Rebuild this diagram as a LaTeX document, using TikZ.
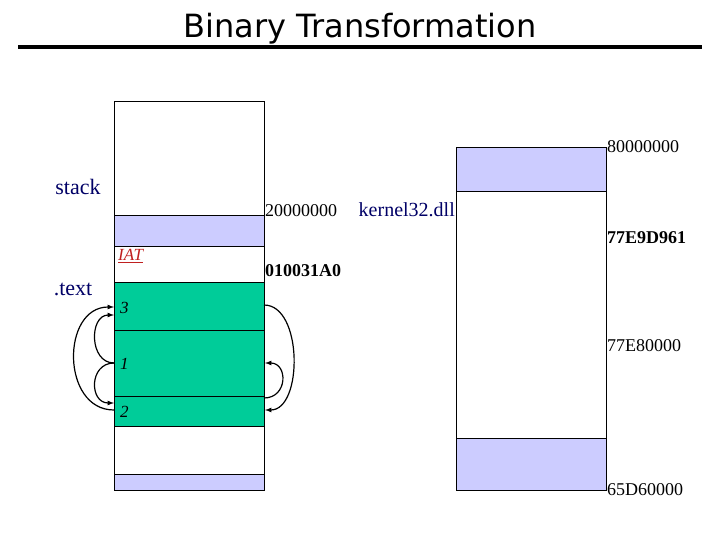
\documentclass[tikz,border=0pt]{standalone}
\usepackage{fontspec}
\setmainfont{Liberation Serif}
\newfontfamily\titlefont{DejaVu Sans}
\definecolor{lav}{RGB}{204,204,255}
\definecolor{grn}{RGB}{0,204,153}
\definecolor{navy}{RGB}{0,0,102}
\definecolor{iatred}{RGB}{192,32,32}
\begin{document}
\begin{tikzpicture}[x=1pt,y=-1pt,
	seg/.style={draw=black,line width=1pt},
	addr/.style={anchor=west,inner sep=0pt,font=\fontsize{18}{20}\selectfont},
	baddr/.style={addr,font=\fontsize{18}{20}\selectfont\bfseries},
	sect/.style={inner sep=0pt,text=navy,font=\fontsize{22}{24}\selectfont},
	blk/.style={anchor=west,inner sep=0pt,font=\fontsize{17}{19}\selectfont\itshape},
	jmp/.style={-latex,line width=1.2pt}]
	
	\useasboundingbox (0,0) rectangle (720,540);
	
	% title
	\node[font=\titlefont\fontsize{32}{34}\selectfont] (title) at (360,29) {Binary Transformation};
	\draw[line width=3.5pt] (18,47)--(702,47);
	
	% program image
	\draw[seg][fill=white](114,102) rectangle (264,216);
	\draw[seg][fill=lav](114,216) rectangle (264,246);
	\draw[seg][fill=white](114,246) rectangle (264,282);
	\draw[seg][fill=grn](114,282) rectangle (264,330);
	\draw[seg][fill=grn](114,330) rectangle (264,396);
	\draw[seg][fill=grn](114,396) rectangle (264,426);
	\draw[seg][fill=white](114,426) rectangle (264,474);
	\draw[seg][fill=lav](114,474) rectangle (264,490);
	
	% kernel32.dll image
	\draw[seg][fill=lav](456,148) rectangle (606,192);
	\draw[seg][fill=white](456,192) rectangle (606,438);
	\draw[seg][fill=lav](456,438) rectangle (606,490);
	
	\node[sect] (stack) at (78,187) {stack};
	\node[sect] (text) at (73,289) {.text};
	\node[sect,anchor=east,font=\fontsize{20}{22}\selectfont] (dll) at (455,210) {kernel32.dll};
	
	\node[blk,text=iatred] (iat) at (118,256) {\underline{IAT}};
	\node[blk] (b3) at (120,308) {3};
	\node[blk] (b1) at (120,364) {1};
	\node[blk] (b2) at (120,412) {2};
	
	\node[addr] (a2) at (265,211) {20000000};
	\node[baddr] (a31) at (265,271) {010031A0};
	\node[addr] (a8) at (607,147) {80000000};
	\node[baddr] (a77) at (607,238) {77E9D961};
	\node[addr] (a7e) at (607,346) {77E80000};
	\node[addr] (a65) at (607,490) {65D60000};
	
	% jumps between blocks
	\coordinate (l3a) at (114,307);
	\coordinate (l3b) at (114,315);
	\coordinate (l1) at (114,363);
	\coordinate (l2a) at (114,403);
	\coordinate (l2b) at (114,410);
	\coordinate (r3) at (264,305);
	\coordinate (r1) at (265,363);
	\coordinate (r2a) at (264,398);
	\coordinate (r2b) at (265,410);
	
	\draw[jmp](l1) .. controls (89,363) and (89,315) .. (l3b);
	\draw[jmp](l1) .. controls (89,363) and (89,403) .. (l2a);
	\draw[jmp](l2b) .. controls (61,410) and (61,307) .. (l3a);
	\draw[jmp](r3) .. controls (303,305) and (303,410) .. (r2b);
	\draw[jmp](r2a) .. controls (288,398) and (288,363) .. (r1);
	
\end{tikzpicture}
\end{document}
